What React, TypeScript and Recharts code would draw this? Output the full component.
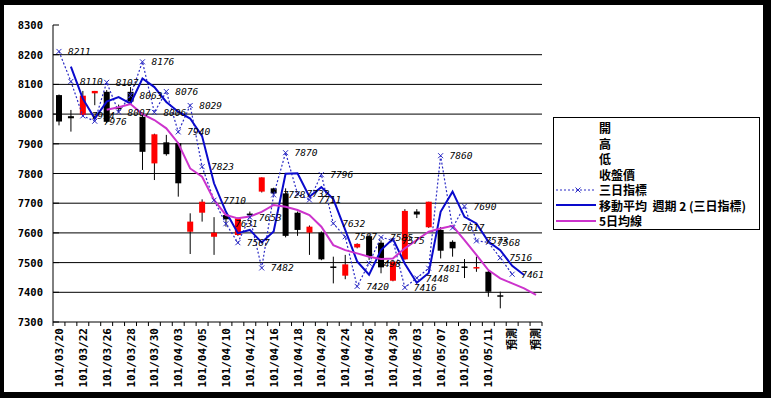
import React from "react";
import {
  ComposedChart,
  Bar,
  Line,
  XAxis,
  YAxis,
  CartesianGrid,
  LabelList,
} from "recharts";

const dates = [
  "101/03/20", "101/03/21", "101/03/22", "101/03/23", "101/03/26", "101/03/27",
  "101/03/28", "101/03/29", "101/03/30", "101/03/31", "101/04/03", "101/04/04",
  "101/04/05", "101/04/09", "101/04/10", "101/04/11", "101/04/12", "101/04/13",
  "101/04/16", "101/04/17", "101/04/18", "101/04/19", "101/04/20", "101/04/23",
  "101/04/24", "101/04/25", "101/04/26", "101/04/27", "101/04/30", "101/05/02",
  "101/05/03", "101/05/04", "101/05/07", "101/05/08", "101/05/09", "101/05/10",
  "101/05/11", "101/05/14", "預測", "預測", "預測",
];

const opens = [
  8064, 7993, 7997, 8070, 8075, 8022, 8075, 7991, 7834, 7905, 7902, 7604, 7668,
  7587, 7660, 7593, 7665, 7739, 7750, 7733, 7668, 7601, 7601, 7487, 7456, 7551,
  7589, 7567, 7439, 7511, 7672, 7619, 7610, 7570, 7487, 7483, 7469, 7390,
];
const highs = [
  8066, 8014, 8078, 8078, 8081, 8032, 8091, 8003, 7934, 7930, 7905, 7666, 7713,
  7653, 7662, 7652, 7672, 7787, 7752, 7750, 7672, 7625, 7605, 7520, 7526, 7565,
  7595, 7575, 7505, 7680, 7680, 7705, 7620, 7575, 7512, 7520, 7472, 7402,
];
const lows = [
  7962, 7941, 7995, 8030, 7970, 8005, 8040, 7812, 7778, 7860, 7722, 7529, 7638,
  7526, 7621, 7590, 7650, 7736, 7730, 7585, 7590, 7526, 7508, 7430, 7444, 7548,
  7509, 7464, 7437, 7510, 7650, 7617, 7514, 7520, 7448, 7469, 7385, 7346,
];
const closes = [
  7975, 7986, 8062, 8078, 7974, 8018, 8042, 7873, 7932, 7865, 7767, 7638, 7705,
  7601, 7646, 7649, 7660, 7787, 7733, 7590, 7610, 7621, 7511, 7485, 7494, 7563,
  7522, 7484, 7503, 7674, 7662, 7705, 7540, 7548, 7485, 7485, 7402, 7385,
];

// 三日指標
const threeDay = [
  8211, 8110, 7994, 7976, 8107, 8007, 8063, 8176, 8006, 8076, 7940, 8029, 7823,
  7710, 7631, 7567, 7653, 7482, 7728, 7870, 7732, 7711, 7796, 7632, 7587, 7420,
  7498, 7585, 7575, 7416, 7448, 7481, 7860, 7617, 7690, 7573, 7568, 7516, 7461,
  null, null,
];

// 移動平均 週期 2 (三日指標)
const movingAvg = [
  null, 8160, 8052, 7985, 8042, 8057, 8035, 8120, 8091, 8041, 8008, 7985, 7926,
  7767, 7671, 7599, 7610, 7568, 7605, 7799, 7801, 7722, 7754, 7714, 7610, 7504,
  7459, 7542, 7580, 7496, 7432, 7465, 7671, 7739, 7654, 7632, 7571, 7542, 7489,
  7458, null,
];

// 5日均線
const ma5 = [
  null, null, null, null, 8015, 8023, 8034, 8000, 7980, 7952, 7902, 7817, 7789,
  7711, 7660, 7649, 7655, 7671, 7694, 7688, 7677, 7660, 7621, 7559, 7542, 7531,
  7520, 7512, 7514, 7548, 7576, 7604, 7615, 7624, 7576, 7526, 7475, 7447, 7430,
  7413, 7391,
];

const yTicks = [7300, 7400, 7500, 7600, 7700, 7800, 7900, 8000, 8100, 8200, 8300];
const gridValues = yTicks.slice(1, -1);

const legendNames = [
  "開",
  "高",
  "低",
  "收盤價",
  "三日指標",
  "移動平均  週期 2 (三日指標)",
  "5日均線",
];

const data = dates.map((date, i) => ({
  date,
  open: opens[i] ?? null,
  high: highs[i] ?? null,
  low: lows[i] ?? null,
  close: closes[i] ?? null,
  range: lows[i] != null ? [lows[i], highs[i]] : null,
  k3: threeDay[i],
  ma2: movingAvg[i],
  ma5: ma5[i],
}));

const W = 771;
const H = 398;
const MARGIN = { top: 25, right: 229, bottom: 10, left: 8 };
const PLOT_LEFT = 53;
const PLOT_BOTTOM = 322;
const BAND = (W - MARGIN.right - PLOT_LEFT) / dates.length;

const K3_COLOR = "#2a2ac4";
const MA_COLOR = "#0a0acc";
const MA5_COLOR = "#cc33cc";

function Candle(props: any) {
  const { x, y, width, height, payload } = props;
  if (!payload || payload.range == null || height == null) return <g />;
  const top = Math.min(y, y + height);
  const h = Math.abs(height);
  const span = payload.high - payload.low;
  const k = span > 0 ? h / span : 0;
  const yO = top + (payload.high - payload.open) * k;
  const yC = top + (payload.high - payload.close) * k;
  const color = payload.close > payload.open ? "#ff0000" : "#000000";
  const cx = x + width / 2;
  const bt = Math.min(yO, yC);
  const bh = Math.max(1.5, Math.abs(yO - yC));
  return (
    <g>
      <line x1={cx} x2={cx} y1={top} y2={top + h} stroke="#000" strokeWidth={1} />
      <rect x={x} y={bt} width={width} height={bh} fill={color} />
    </g>
  );
}

function Cross(props: any) {
  const { cx, cy, index } = props;
  if (cx == null || cy == null || props.value == null) return <g key={index} />;
  const s = 2.5;
  return (
    <path
      key={index}
      d={`M${cx - s},${cy - s}L${cx + s},${cy + s}M${cx + s},${cy - s}L${cx - s},${cy + s}`}
      stroke={K3_COLOR}
      strokeWidth={1}
      fill="none"
    />
  );
}

function K3Label(props: any) {
  const { x, y, value } = props;
  if (value == null || x == null) return null;
  return (
    <text
      x={x + 9}
      y={y + 3.5}
      fontSize={9.5}
      fontStyle="italic"
      fontFamily="DejaVu Sans Mono"
      fill="#000"
    >
      {value}
    </text>
  );
}

function XTick(props: any) {
  const { x, index, payload } = props;
  const bx = x - BAND / 2;
  const ty = PLOT_BOTTOM + 6;
  return (
    <g>
      <line x1={bx} x2={bx} y1={PLOT_BOTTOM} y2={PLOT_BOTTOM + 4} stroke="#000" />
      {index === dates.length - 1 && (
        <line
          x1={x + BAND / 2}
          x2={x + BAND / 2}
          y1={PLOT_BOTTOM}
          y2={PLOT_BOTTOM + 4}
          stroke="#000"
        />
      )}
      {index % 2 === 0 && (
        <text
          x={x + 4}
          y={ty}
          transform={`rotate(-90 ${x + 4} ${ty})`}
          textAnchor="end"
          fontSize={11}
          fontWeight="bold"
          fontFamily="DejaVu Sans Mono, Noto Sans CJK TC"
          fill="#000"
        >
          {payload.value}
        </text>
      )}
    </g>
  );
}

function YTick(props: any) {
  const { y, payload } = props;
  return (
    <g>
      <line x1={PLOT_LEFT} x2={PLOT_LEFT + 6} y1={y} y2={y} stroke="#000" />
      <text
        x={43}
        y={y + 4}
        textAnchor="end"
        fontSize={10.5}
        fontWeight="bold"
        fontFamily="DejaVu Sans Mono"
        fill="#000"
      >
        {payload.value}
      </text>
    </g>
  );
}

function Swatch({ index }: { index: number }) {
  if (index === 4) {
    return (
      <svg width={40} height={10}>
        <line x1={0} x2={40} y1={5} y2={5} stroke={K3_COLOR} strokeDasharray="2 2" />
        <path d="M19.5,2.5L24.5,7.5M24.5,2.5L19.5,7.5" stroke={K3_COLOR} />
      </svg>
    );
  }
  if (index === 5 || index === 6) {
    return (
      <svg width={40} height={10}>
        <line
          x1={0}
          x2={40}
          y1={5}
          y2={5}
          stroke={index === 5 ? MA_COLOR : MA5_COLOR}
          strokeWidth={2}
        />
      </svg>
    );
  }
  return <svg width={40} height={10} />;
}

export default function App() {
  return (
    <div
      style={{
        position: "absolute",
        left: 0,
        top: 0,
        width: W,
        height: H,
        background: "#000",
      }}
    >
      <div
        style={{
          position: "absolute",
          left: 4,
          top: 5,
          width: 759,
          height: 387,
          background: "#fff",
        }}
      />
      <div style={{ position: "absolute", left: 0, top: 0 }}>
        <ComposedChart width={W} height={H} data={data} margin={MARGIN}>
          <CartesianGrid
            vertical={false}
            horizontalValues={gridValues}
            stroke="#000"
            strokeWidth={1}
          />
          <XAxis
            dataKey="date"
            interval={0}
            tickLine={false}
            axisLine={{ stroke: "#000" }}
            height={66}
            tick={(p: any) => <XTick {...p} />}
          />
          <YAxis
            domain={[7300, 8300]}
            ticks={yTicks}
            interval={0}
            tickLine={false}
            axisLine={{ stroke: "#000" }}
            width={45}
            tick={(p: any) => <YTick {...p} />}
          />
          <YAxis
            yAxisId="r"
            orientation="right"
            domain={[7300, 8300]}
            tick={false}
            tickLine={false}
            axisLine={{ stroke: "#808080" }}
            width={0}
          />
          <Line
            type="linear"
            dataKey="k3"
            stroke={K3_COLOR}
            strokeWidth={1.2}
            strokeDasharray="2 2"
            dot={Cross}
            activeDot={false}
            isAnimationActive={false}
          >
            <LabelList dataKey="k3" content={K3Label} />
          </Line>
          <Bar dataKey="range" barSize={6} shape={Candle} isAnimationActive={false} />
          <Line
            type="linear"
            dataKey="ma2"
            stroke={MA_COLOR}
            strokeWidth={2}
            dot={false}
            activeDot={false}
            isAnimationActive={false}
          />
          <Line
            type="linear"
            dataKey="ma5"
            stroke={MA5_COLOR}
            strokeWidth={2}
            dot={false}
            activeDot={false}
            isAnimationActive={false}
          />
        </ComposedChart>
      </div>
      <div
        style={{
          position: "absolute",
          left: 553,
          top: 117,
          width: 205,
          height: 109,
          border: "1px solid #000",
          background: "#fff",
          paddingTop: 2,
          boxSizing: "content-box",
        }}
      >
        {legendNames.map((name, i) => (
          <div
            key={i}
            style={{
              display: "flex",
              alignItems: "center",
              height: 15.5,
              fontFamily: "Noto Sans CJK TC",
              fontSize: 12,
              fontWeight: "bold",
              whiteSpace: "pre",
              lineHeight: "15px",
            }}
          >
            <div style={{ width: 43, paddingLeft: 2, display: "flex" }}>
              <Swatch index={i} />
            </div>
            <span>{name}</span>
          </div>
        ))}
      </div>
    </div>
  );
}
